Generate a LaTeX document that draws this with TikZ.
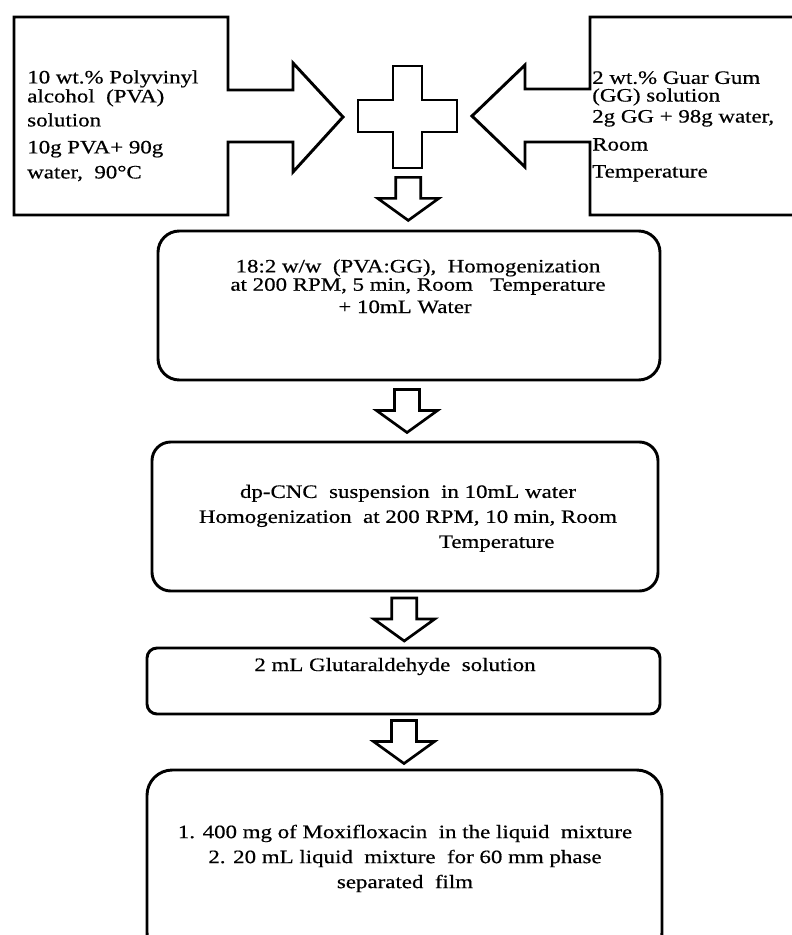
\documentclass[tikz,border=0pt]{standalone}
\usepackage{fontspec}
\setmainfont{Liberation Serif}[FakeStretch=1.21, FakeBold=0.5]
\usetikzlibrary{calc,fit}

\tikzset{
	outline/.style={black, line width=2.2pt, line join=miter},
	stepbox/.style={draw=black, line width=2.2pt, rounded corners=#1, inner sep=0pt},
	steptext/.style={font=\fontsize{14.2pt}{18.75pt}\selectfont, inner sep=0pt},
	blockarrow/.style={black, line width=2pt, line join=miter, fill=white},
}

\newcommand{\downblock}[2]{%
	\draw[blockarrow] ($(#1.south)!0.5!(#2.north)+(-12.5,-21.5)$) -- ++(25,0) -- ++(0,21) -- ++(18,0) -- ++(-30.5,22) -- ++(-30.5,-22) -- ++(18,0) -- cycle;}

\begin{document}
\begin{tikzpicture}[x=0.75pt, y=-0.75pt]
		\useasboundingbox (0,0) rectangle (792,935);
		\clip (0,0) rectangle (792,935);

		\draw[outline] (14,17) -- (228,17) -- (228,90) -- (293,90) -- (293,63) -- (343,117) -- (293,172) -- (293,142) -- (228,142) -- (228,215) -- (14,215) -- cycle;
		\draw[outline] (800,17) -- (590,17) -- (590,89) -- (525,89) -- (525,65) -- (472,116) -- (525,167) -- (525,142) -- (590,142) -- (590,215) -- (800,215);

		\node[steptext, anchor=north west, align=left] (pvatext) at (27,70) {10 wt.\% Polyvinyl\\[-4.5pt] alcohol\ \ (PVA)\\[-0.75pt] solution\\[1.5pt] 10g PVA+ 90g\\ water,\ \ 90°C};
		\node[steptext, anchor=north west, align=left] (ggtext) at (592,71) {2 wt.\% Guar Gum\\[-5.5pt] (GG) solution\\[-3pt] 2g GG + 98g water,\\[2.25pt] Room\\[1.5pt] Temperature};

		\node[fit={(358,66) (457,168)}, inner sep=0pt] (plus) {};
		\draw[outline] (393,66) -- (422,66) -- (422,100) -- (457,100) -- (457,132) -- (422,132) -- (422,168) -- (393,168) -- (393,132) -- (358,132) -- (358,100) -- (393,100) -- cycle;

		\node[stepbox=16pt, fit={(158,231) (660,380)}] (mixbox) {};
		\node[steptext, anchor=north, align=center] (mixtext) at (418,259) {18:2 w/w\ \ (PVA:GG),\ \ Homogenization\\[-5pt] at 200 RPM, 5 min, Room\ \ \ Temperature};
		\node[steptext, anchor=base] (watertext) at (405,313) {+ 10mL Water};

		\node[stepbox=14pt, fit={(152,442) (658,591)}] (cncbox) {};
		\node[steptext, anchor=north, align=center] (cnctext) at (408,484.5) {dp-CNC\ \ suspension\ \ in 10mL water\\ Homogenization\ \ at 200 RPM, 10 min, Room\\ \hspace*{133pt}Temperature};

		\node[stepbox=7.5pt, fit={(147,648) (660,714)}] (gtabox) {};
		\node[steptext, anchor=base] (gtatext) at (395,671) {2 mL Glutaraldehyde\ \ solution};

		\node[stepbox=19pt, fit={(147,770) (662,958)}] (drugbox) {};
		\node[steptext, anchor=north, align=center] (drugtext) at (405,824.5) {1. 400 mg of Moxifloxacin\ \ in the liquid\ \ mixture\\ 2. 20 mL liquid\ \ mixture\ \ for 60 mm phase\\ separated\ \ film};

		\downblock{plus}{mixbox}
		\downblock{mixbox}{cncbox}
		\downblock{cncbox}{gtabox}
		\downblock{gtabox}{drugbox}
	\end{tikzpicture}
\end{document}
